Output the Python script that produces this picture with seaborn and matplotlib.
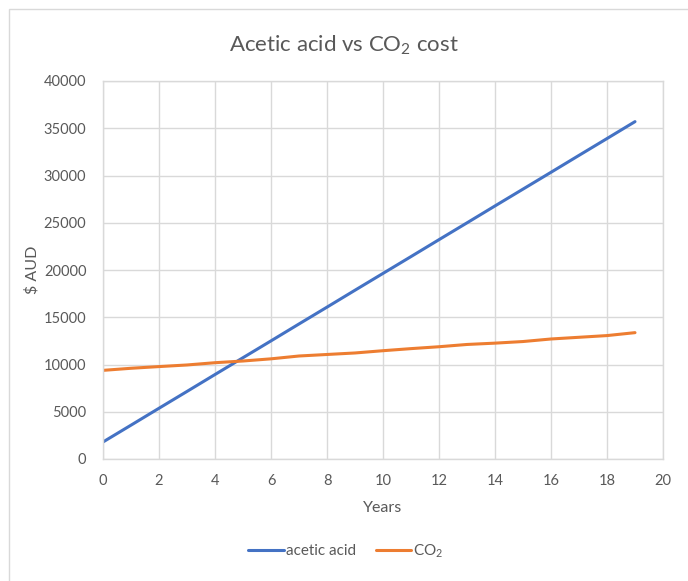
import matplotlib
matplotlib.use("Agg")
import matplotlib.pyplot as plt
from matplotlib.patches import Rectangle
from matplotlib.lines import Line2D
import seaborn as sns
import pandas as pd

years = list(range(20))
acetic_acid = [1800, 3580, 5370, 7150, 8940, 10720, 12500, 14290, 16070, 17860,
               19640, 21420, 23210, 24990, 26780, 28560, 30340, 32130, 33910, 35700]
co2 = [9380, 9600, 9780, 9950, 10190, 10370, 10600, 10900, 11060, 11220,
       11460, 11680, 11880, 12120, 12260, 12430, 12700, 12880, 13060, 13370]
series_names = ["acetic acid", "CO$_2$"]
series_colors = ["#4472C4", "#ED7D31"]
x_ticks = list(range(0, 21, 2))
y_ticks = list(range(0, 40001, 5000))

sns.set_style("white")
plt.rcParams["font.family"] = ["Lato", "DejaVu Sans"]
plt.rcParams["mathtext.default"] = "regular"

text_color = "#595959"
grid_color = "#D9D9D9"

df = pd.DataFrame({
    "Years": years * 2,
    "cost": acetic_acid + co2,
    "series": [series_names[0]] * len(years) + [series_names[1]] * len(years),
})

W, H = 688, 581
fig = plt.figure(figsize=(W / 100, H / 100), dpi=100)

# chart frame
fig.patches.append(Rectangle((9 / W, -0.01), 1.0, 1 - 9 / H + 0.01,
                             transform=fig.transFigure, fill=False,
                             edgecolor="#D9D9D9", linewidth=1.0))

ax = fig.add_axes([103 / W, (H - 459) / H, 560 / W, 378 / H])
sns.lineplot(data=df, x="Years", y="cost", hue="series",
             palette=dict(zip(series_names, series_colors)),
             linewidth=2.2, ax=ax, legend=False)

ax.set_xlim(0, 20)
ax.set_ylim(0, 40000)
ax.set_xticks(x_ticks)
ax.set_yticks(y_ticks)
ax.grid(True, color=grid_color, linewidth=1.0)
ax.set_axisbelow(True)
for side, sp in ax.spines.items():
    sp.set_color(grid_color)
    sp.set_linewidth(1.0)
ax.tick_params(axis="both", length=0, labelsize=10.5, colors=text_color)
ax.tick_params(axis="x", pad=11)
ax.tick_params(axis="y", pad=12)

ax.set_xlabel("Years", fontsize=11.5, color=text_color, labelpad=9)
ax.set_ylabel("$ AUD", fontsize=11.5, color=text_color)
ax.yaxis.set_label_coords(-0.113, 0.5)

fig.text(0.5, 1 - 45 / H, "Acetic acid vs CO$_2$ cost", ha="center", va="center",
         fontsize=16, color=text_color)

handles = [Line2D([], [], color=c, linewidth=2.2) for c in series_colors]
fig.legend(handles, series_names, loc="center", bbox_to_anchor=(346 / W, 1 - 551 / H),
           ncol=2, frameon=False, fontsize=11, labelcolor=text_color,
           handlelength=2.3, handletextpad=0.15, columnspacing=1.3)

fig.savefig("out.png", dpi=100)
